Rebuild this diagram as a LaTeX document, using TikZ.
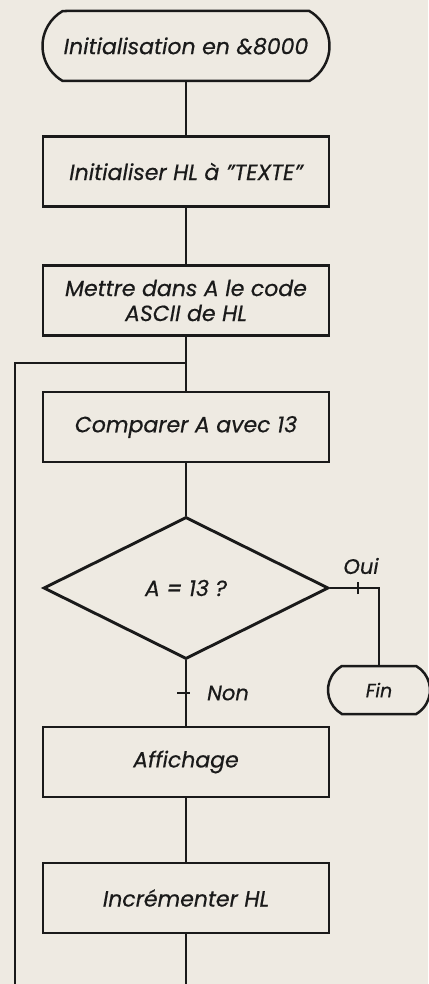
\documentclass[tikz,border=0pt]{standalone}
\usepackage{fontspec}
\setmainfont{Poppins}[ItalicFeatures={FakeBold=0.5}]
\usetikzlibrary{shapes.misc,shapes.geometric}
\definecolor{paper}{HTML}{EEEAE2}
\definecolor{ink}{HTML}{1A1A1A}
\tikzset{
  term/.style={rounded rectangle, rounded rectangle arc length=120, draw=ink, line width=2.5pt,
    inner sep=0pt, font=\itshape\fontsize{22}{25}\selectfont, text=ink},
  procbox/.style={rectangle, draw=ink, line width=2.7pt, minimum width=286pt, minimum height=70pt,
    inner sep=0pt, align=center, font=\itshape\fontsize{22}{25}\selectfont, text=ink},
  decide/.style={diamond, draw=ink, line width=2.9pt, minimum width=285pt, minimum height=142pt,
    inner sep=0pt, aspect=2, font=\itshape\fontsize{22}{25}\selectfont, text=ink},
  link/.style={draw=ink, line width=1.3pt},
  lbl/.style={font=\itshape\fontsize{21}{24}\selectfont, text=ink, inner sep=0pt},
}
\begin{document}
\begin{tikzpicture}[x=1pt,y=-1pt]
\fill[paper] (0,0) rectangle (428,984);
\useasboundingbox (0,0) rectangle (428,984);
\node[term, minimum width=287pt, minimum height=70pt] (start) at (186,46) {Initialisation en \&8000};
\node[procbox] (init) at (186,171.5) {Initialiser HL à "TEXTE"};
\node[procbox] (load) at (186,300.5) {Mettre dans A le code\\ASCII de HL};
\node[procbox] (comp) at (186,427) {Comparer A avec 13};
\node[decide] (test) at (186,588) {A = 13 ?};
\node[procbox] (show) at (186,762) {Affichage};
\node[procbox] (incr) at (186,898) {Incrémenter HL};
\node[term, minimum width=102pt, minimum height=48pt, font=\itshape\fontsize{19}{22}\selectfont] (fin) at (379,690) {Fin};
\coordinate (loopjoin) at (186,363);
\coordinate (loopleft) at (15,363);
\coordinate (loopbottom) at (15,984);
\coordinate (incrbottom) at (186,984);
\coordinate (ouicorner) at (fin.north |- test.east);
\draw[link] (start.south) -- (init.north);
\draw[link] (init.south) -- (load.north);
\draw[link] (load.south) -- (comp.north);
\draw[link] (comp.south) -- (test.north);
\draw[link] (test.south) -- (show.north);
\draw[link] (show.south) -- (incr.north);
\draw[link] (incr.south) -- (incrbottom);
\draw[link] (loopjoin) -- (loopleft) -- (loopbottom);
\draw[link] (test.east) -- (ouicorner) -- (fin.north);
\coordinate (ouitick) at (358,588);
\draw[link] ([yshift=-6pt]ouitick) -- ([yshift=6pt]ouitick);
\coordinate (nontick) at (186,693);
\draw[link] ([xshift=-9pt]nontick) -- ([xshift=4pt]nontick);
\node[lbl] (oui) at (361,566) {Oui};
\node[lbl, anchor=west] (non) at (207,693) {Non};
\end{tikzpicture}
\end{document}
